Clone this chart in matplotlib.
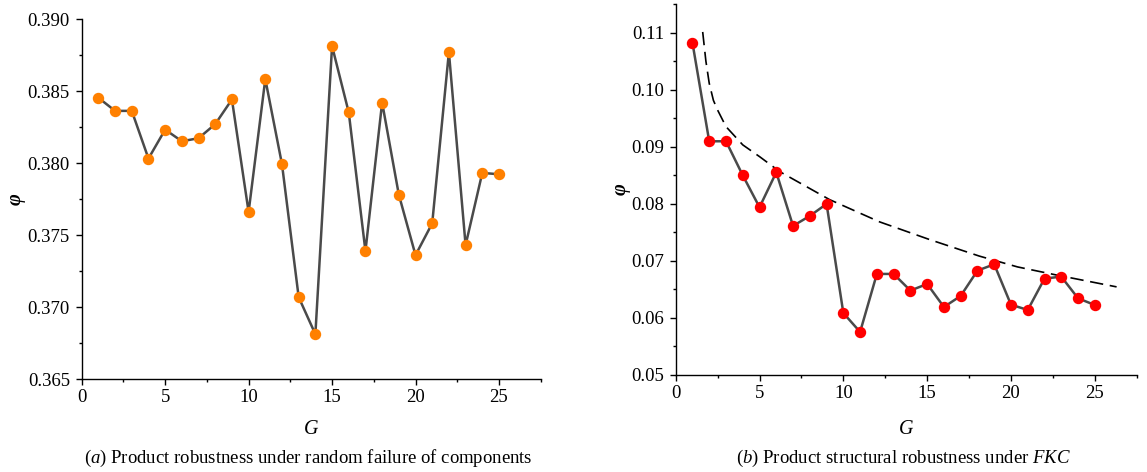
import matplotlib
matplotlib.use("Agg")
from matplotlib import pyplot as plt
from matplotlib.ticker import MultipleLocator, FormatStrFormatter

plt.rcParams['font.family'] = ['Liberation Serif', 'DejaVu Serif']
plt.rcParams['mathtext.fontset'] = 'custom'
plt.rcParams['mathtext.rm'] = 'Liberation Serif'
plt.rcParams['mathtext.it'] = 'Liberation Serif:italic'

# generation index
G = list(range(1, 26))

# (a) robustness under random failure
phi_random = [0.38453, 0.38362, 0.38362, 0.38031, 0.38232, 0.38151, 0.38172, 0.38270,
              0.38441, 0.37660, 0.38583, 0.37991, 0.37068, 0.36811, 0.38812, 0.38351,
              0.37388, 0.38420, 0.37780, 0.37360, 0.37581, 0.38770, 0.37430, 0.37931,
              0.37922]

# (b) structural robustness under FKC
phi_fkc = [0.10819, 0.09093, 0.09093, 0.08496, 0.07936, 0.08549, 0.07609, 0.07784,
           0.07994, 0.06082, 0.05749, 0.06767, 0.06767, 0.06475, 0.06591, 0.06187,
           0.06381, 0.06825, 0.06936, 0.06228, 0.06135, 0.06685, 0.06720, 0.06340,
           0.06222]

# dashed envelope curve
env_x = [1.61, 1.8, 2.0, 2.25, 2.5, 3.0, 4.0, 5.02, 6.21, 9.18, 12.16, 15.14, 18.11,
         20.39, 22.68, 26.3]
env_y = [0.1101, 0.1050, 0.1011, 0.0981, 0.0964, 0.0935, 0.0903, 0.0882, 0.0856,
         0.0807, 0.0768, 0.0737, 0.0708, 0.0689, 0.0675, 0.0654]

W, H = 1147, 472
fig = plt.figure(figsize=(W / 100, H / 100), dpi=100)


def px_axes(x0, x1, y0, y1):
    # pixel box -> figure fraction
    return fig.add_axes([x0 / W, 1 - y1 / H, (x1 - x0) / W, (y1 - y0) / H])


def style(ax, ymaj, yfmt):
    for s in ['top', 'right']:
        ax.spines[s].set_visible(False)
    for s in ['left', 'bottom']:
        ax.spines[s].set_linewidth(1.0)
    ax.xaxis.set_major_locator(MultipleLocator(5))
    ax.xaxis.set_minor_locator(MultipleLocator(2.5))
    ax.yaxis.set_major_locator(MultipleLocator(ymaj))
    ax.yaxis.set_minor_locator(MultipleLocator(ymaj / 2))
    ax.yaxis.set_major_formatter(FormatStrFormatter(yfmt))
    ax.tick_params(which='major', direction='out', length=4.5, width=1.0, labelsize=13.5)
    ax.tick_params(axis='x', which='major', pad=3.0)
    ax.tick_params(axis='y', which='major', pad=4.0)
    ax.tick_params(which='minor', direction='out', length=2.5, width=1.0)
    ax.set_xlim(0, 27.5)


ax1 = px_axes(81.7, 540.7, 19, 379)
ax1.plot(G, phi_random, color='#4a4a4a', lw=1.8, marker='o', ms=7.2,
         mfc='#ff8000', mec='#ff8000', zorder=3)
ax1.set_ylim(0.365, 0.390)
style(ax1, 0.005, '%.3f')

ax2 = px_axes(675.7, 1136.7, 4, 374.7)
ax2.plot(env_x, env_y, color='black', lw=1.2, ls='--', dashes=(8, 4), zorder=2)
ax2.plot(G, phi_fkc, color='#4a4a4a', lw=1.8, marker='o', ms=7.2,
         mfc='#ff0000', mec='#ff0000', zorder=3)
ax2.set_ylim(0.05, 0.115)
style(ax2, 0.01, '%.2f')

# axis titles and captions
for xc, yc, xl in [(311, 199, 15.7), (906, 189, 621)]:
    fig.text(xc / W, 1 - 430 / H, 'G', fontsize=14.5, style='italic', ha='center', va='center')
    fig.text(xl / W, 1 - yc / H, 'φ', fontsize=14.5, style='italic', fontweight='bold',
             rotation=90, ha='center', va='center')

fig.text(308 / W, 1 - 458 / H, r'($\mathit{a}$) Product robustness under random failure of components',
         fontsize=13.5, ha='center', va='center')
fig.text(903 / W, 1 - 458 / H, r'($\mathit{b}$) Product structural robustness under $\mathit{FKC}$',
         fontsize=13.5, ha='center', va='center')

fig.savefig('out.png', dpi=100)
